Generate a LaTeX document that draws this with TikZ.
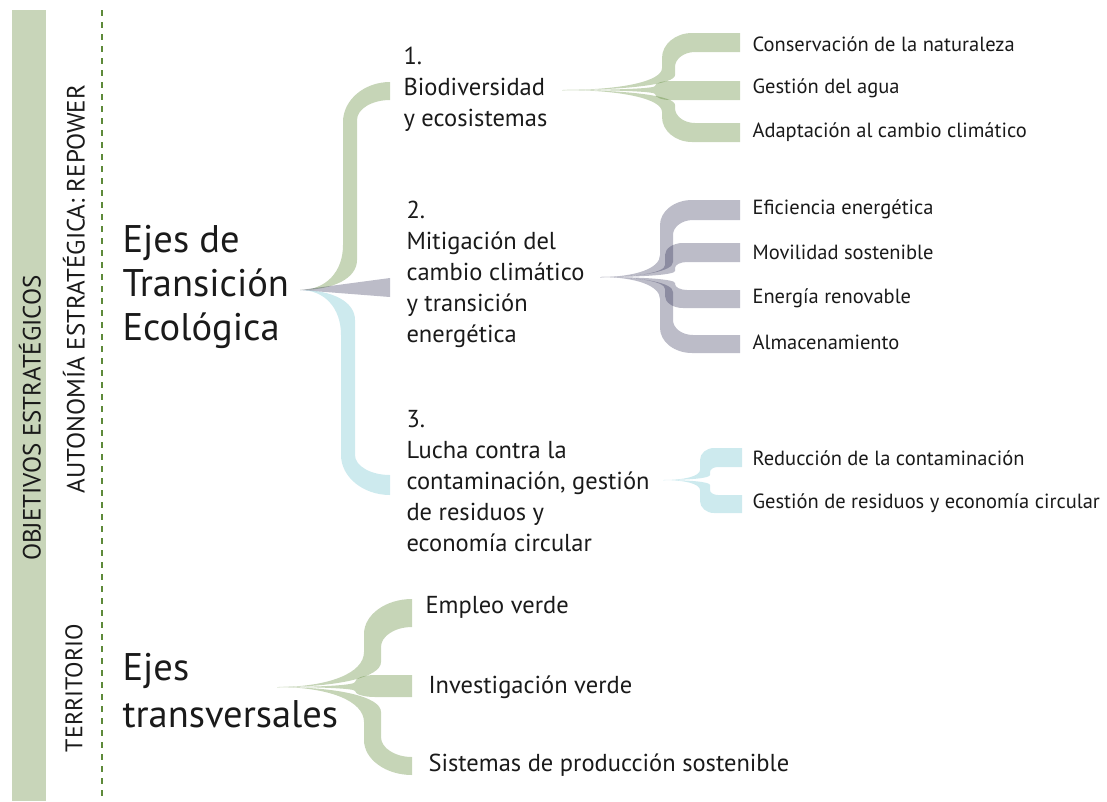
\documentclass[tikz,border=0pt]{standalone}
\usepackage{fontspec}
\setmainfont{PT Sans}
\usepackage{tikz}

\definecolor{barra}{RGB}{200,213,185}
\definecolor{raya}{RGB}{93,138,58}
\definecolor{verde}{RGB}{65,115,18}
\definecolor{gris}{RGB}{32,32,72}
\definecolor{celeste}{RGB}{90,185,200}
\definecolor{texto}{RGB}{26,26,26}

% edge of a fan branch: origin, vertical x, first bend, second bend, bend width, end y
\newcommand{\borde}[7]{(#1,#2) .. controls ({#1+0.6*(#3-#1)},#2) and (#3,{#2+0.4*(#4)}) .. (#3,{#2+(#4)}) -- (#3,{#7-(#5)}) .. controls (#3,{#7-0.45*(#5)}) and ({#3+0.45*#6},#7) .. ({#3+#6},#7)}
\newcommand{\bordeinv}[7]{-- ({#3+#6},#7) .. controls ({#3+0.45*#6},#7) and (#3,{#7-0.45*(#5)}) .. (#3,{#7-(#5)}) -- (#3,{#2+(#4)}) .. controls (#3,{#2+0.4*(#4)}) and ({#1+0.6*(#3-#1)},#2) .. (#1,#2)}

\tikzset{
  rama/.style={fill=#1, fill opacity=0.3},
  titulo/.style={anchor=west, align=left, text=texto, font=\fontsize{38.5}{44}\selectfont},
  grupo/.style={anchor=west, align=left, text=texto, font=\fontsize{24.5}{31}\selectfont},
  hoja/.style={anchor=west, text=texto, font=\fontsize{20.5}{24}\selectfont},
  lateral/.style={rotate=90, text=texto, font=\fontsize{25}{28}\selectfont}
}

\begin{document}
\begin{tikzpicture}[x=1pt, y=-1pt]
\useasboundingbox (0,0) rectangle (1107,801);

% side bands
\fill[barra] (12,10) rectangle (46,801);
\draw[raya, line width=1.6pt, dash pattern=on 6pt off 6pt] (102,10) -- (102,801);
\node[lateral] (objetivos) at (30,418) {OBJETIVOS ESTRATÉGICOS};
\node[lateral] (autonomia) at (74,289) {AUTONOMÍA ESTRATÉGICA: REPOWER};
\node[lateral, font=\fontsize{24}{28}\selectfont] (territorio) at (74,688) {TERRITORIO};

% main axes
\fill[rama=verde] \borde{300}{290}{343}{-45}{-40}{47}{82} -- (390,82) -- (390,100) \bordeinv{300}{290}{357}{-30}{-20}{33}{100} -- cycle;
\fill[rama=gris] (300,290) -- (390,278) -- (390,297) -- cycle;
\fill[rama=celeste] \borde{300}{290}{355}{30}{20}{35}{475} -- (390,475) -- (390,495) \bordeinv{300}{290}{341}{45}{40}{49}{495} -- cycle;

% 1. biodiversidad
\fill[rama=verde] \borde{562}{90}{662}{-22}{-25}{30}{33} -- (740,33) -- (740,52) \bordeinv{562}{90}{675}{-15}{-15}{20}{52} -- cycle;
\fill[rama=verde] \borde{562}{90}{655}{-4}{-5}{15}{81} -- (740,81) -- (740,100) \bordeinv{562}{90}{655}{4}{6}{15}{100} -- cycle;
\fill[rama=verde] \borde{562}{90}{675}{15}{15}{20}{123} -- (740,123) -- (740,142) \bordeinv{562}{90}{662}{22}{25}{30}{142} -- cycle;

% 2. mitigacion
\fill[rama=gris] \borde{600}{277}{660}{-22}{-25}{32}{200} -- (740,200) -- (740,220) \bordeinv{600}{277}{673}{-15}{-15}{20}{220} -- cycle;
\fill[rama=gris] \borde{600}{277}{665}{-12}{-12}{18}{243} -- (740,243) -- (740,262) \bordeinv{600}{277}{675}{-6}{-6}{12}{262} -- cycle;
\fill[rama=gris] \borde{600}{277}{675}{6}{6}{12}{290} -- (740,290) -- (740,308) \bordeinv{600}{277}{665}{12}{12}{18}{308} -- cycle;
\fill[rama=gris] \borde{600}{277}{673}{15}{15}{20}{335} -- (740,335) -- (740,353) \bordeinv{600}{277}{660}{22}{25}{32}{353} -- cycle;

% 3. contaminacion
\fill[rama=celeste] \borde{663}{480}{700}{-10}{-12}{14}{448} -- (742,448) -- (742,467) \bordeinv{663}{480}{710}{-5}{-5}{8}{467} -- cycle;
\fill[rama=celeste] \borde{663}{480}{710}{5}{5}{8}{495} -- (742,495) -- (742,513) \bordeinv{663}{480}{700}{10}{12}{14}{513} -- cycle;

% transversal axes
\fill[rama=verde] \borde{277}{687}{364}{-35}{-35}{48}{599} -- (412,599) -- (412,627) \bordeinv{277}{687}{381}{-25}{-20}{31}{627} -- cycle;
\fill[rama=verde] \borde{277}{687}{355}{-5}{-7}{20}{675} -- (412,675) -- (412,697) \bordeinv{277}{687}{355}{4}{6}{20}{697} -- cycle;
\fill[rama=verde] \borde{277}{687}{381}{25}{20}{31}{757} -- (412,757) -- (412,775) \bordeinv{277}{687}{364}{35}{35}{48}{775} -- cycle;

% texts
\node[titulo] (ejes) at (119,287) {Ejes de\\Transición\\Ecológica};
\node[titulo, font=\fontsize{38.5}{47}\selectfont] (transversales) at (119,691) {Ejes\\transversales};

\node[grupo] (bio) at (400,89) {1.\\Biodiversidad\\y ecosistemas};
\node[grupo] (mitig) at (403,274) {2.\\Mitigación del\\cambio climático\\y transición\\energética};
\node[grupo] (lucha) at (403,481) {3.\\Lucha contra la\\contaminación, gestión\\de residuos y\\economía circular};

\node[hoja] (conserv) at (749,44) {Conservación de la naturaleza};
\node[hoja] (agua) at (749,88) {Gestión del agua};
\node[hoja] (adapt) at (749,132) {Adaptación al cambio climático};
\node[hoja] (efic) at (749,209) {Eficiencia energética};
\node[hoja] (movil) at (749,252) {Movilidad sostenible};
\node[hoja] (renov) at (749,298) {Energía renovable};
\node[hoja] (almac) at (749,342) {Almacenamiento};
\node[hoja] (reduc) at (749,458) {Reducción de la contaminación};
\node[hoja] (residuos) at (749,503) {Gestión de residuos y economía circular};

\node[grupo] (empleo) at (422,607) {Empleo verde};
\node[grupo] (investig) at (425,687) {Investigación verde};
\node[grupo] (sistemas) at (425,765) {Sistemas de producción sostenible};
\end{tikzpicture}
\end{document}
